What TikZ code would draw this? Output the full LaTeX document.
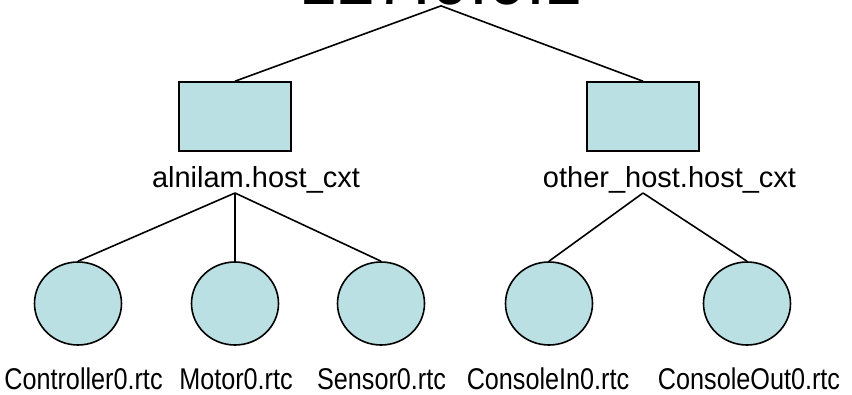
\documentclass[tikz,border=0pt]{standalone}
\usepackage{fontspec}
\setmainfont{Liberation Sans}
\usetikzlibrary{shapes.geometric}
\definecolor{nodefill}{RGB}{187,224,227}
\newcommand{\narrowtext}[1]{\scalebox{0.84}[1]{#1}}
\tikzset{
  link/.style={draw=black, line width=1.6pt},
  hostbox/.style={rectangle, draw=black, line width=1.6pt, fill=nodefill,
    minimum width=112pt, minimum height=69pt, inner sep=0pt},
  compnode/.style={ellipse, draw=black, line width=1.6pt, fill=nodefill,
    minimum width=87pt, minimum height=83pt, inner sep=0pt},
  hostlabel/.style={font=\fontsize{29}{34}\selectfont, inner sep=0pt, anchor=base},
  complabel/.style={font=\fontsize{30}{34}\selectfont, inner sep=0pt, anchor=base},
}
\begin{document}
\begin{tikzpicture}[x=1pt,y=-1pt]
\useasboundingbox (0,0) rectangle (852,395);
\fill[white] (0,0) rectangle (852,395);
\clip (0,0) rectangle (852,395);

% naming context root
\node[font=\fontsize{68}{76}\selectfont, inner sep=0pt, anchor=base] (root) at (441,5) {127.0.0.1};

% host contexts
\node[hostbox] (hostA) at (235,116.5) {};
\node[hostbox] (hostB) at (643,116.5) {};
\node[hostlabel] (labelA) at (256,188) {alnilam.host\_cxt};
\node[hostlabel] (labelB) at (669.5,188) {other\_host.host\_cxt};
\coordinate (hubA) at (235,193);
\coordinate (hubB) at (643,193);

% components
\node[compnode] (ctrl) at (78,303.5) {};
\node[compnode] (motor) at (235,303.5) {};
\node[compnode] (sensor) at (381,303.5) {};
\node[compnode] (conin) at (549,303.5) {};
\node[compnode] (conout) at (747,303.5) {};

\node[complabel] (ctrlL) at (83.5,390) {\narrowtext{Controller0.rtc}};
\node[complabel] (motorL) at (236,390) {\narrowtext{Motor0.rtc}};
\node[complabel] (sensorL) at (381.5,390) {\narrowtext{Sensor0.rtc}};
\node[complabel] (coninL) at (548,390) {\narrowtext{ConsoleIn0.rtc}};
\node[complabel] (conoutL) at (749,390) {\narrowtext{ConsoleOut0.rtc}};

% tree edges
\draw[link] (root.south) -- (hostA.north);
\draw[link] (root.south) -- (hostB.north);
\draw[link] (hubA) -- (ctrl.north);
\draw[link] (hubA) -- (motor.north);
\draw[link] (hubA) -- (sensor.north);
\draw[link] (hubB) -- (conin.north);
\draw[link] (hubB) -- (conout.north);
\end{tikzpicture}
\end{document}
